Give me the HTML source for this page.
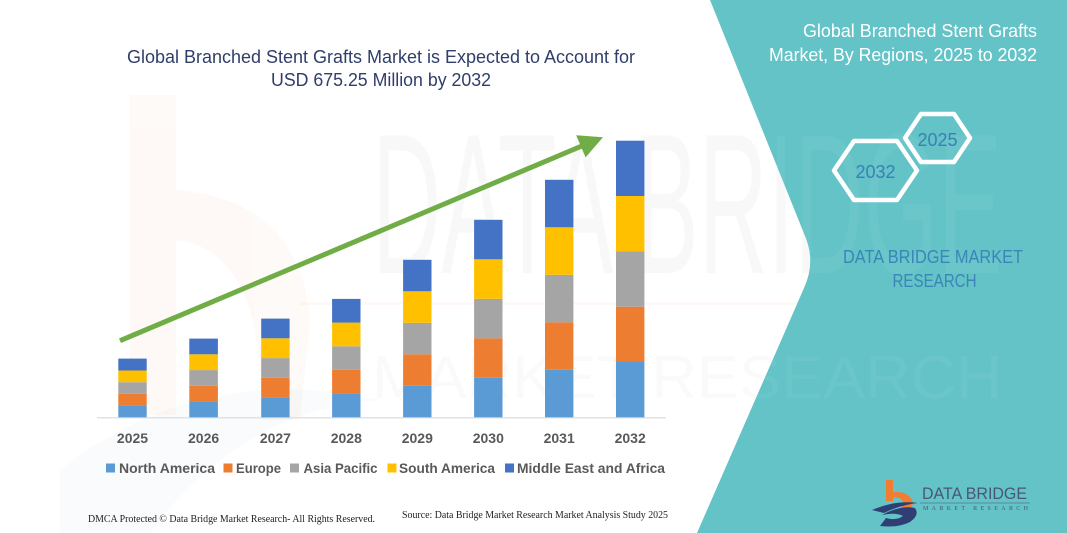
<!DOCTYPE html>
<html>
<head>
<meta charset="utf-8">
<style>
html,body{margin:0;padding:0;background:#fff;}
body{width:1067px;height:533px;overflow:hidden;}
svg{display:block;}
</style>
</head>
<body>
<svg width="1067" height="533" viewBox="0 0 1067 533" xmlns="http://www.w3.org/2000/svg">
  <defs>
    <clipPath id="tealclip">
      <path d="M710,0 L1067,0 L1067,533 L697,533 L804,288 Q816,262 805,236 Z"/>
    </clipPath>
  </defs>
  <rect x="0" y="0" width="1067" height="533" fill="#ffffff"/>

  <!-- faint orange "b" watermark -->
  <g opacity="0.04">
    <rect x="130" y="95" width="46" height="320" fill="#f08a3c"/>
    <path d="M176,190 Q300,200 310,320 L300,420 L262,420 Q265,250 176,240 Z" fill="#f08a3c"/>
  </g>
  <path d="M60,470 Q200,360 380,400 Q240,410 150,533 L60,533 Z" fill="#4a7fb0" opacity="0.03"/>

  <!-- faint DATA BRIDGE watermark (white area) -->
  <g font-family="'Liberation Sans', sans-serif" fill="#000">
    <text x="372" y="273" font-size="200" textLength="630" lengthAdjust="spacingAndGlyphs" opacity="0.022">DATA BRIDGE</text>
    <text x="372" y="398" font-size="60" textLength="630" lengthAdjust="spacingAndGlyphs" opacity="0.015">MARKET RESEARCH</text>
  </g>
  <rect x="300" y="302" width="700" height="3" fill="#f5a060" opacity="0.06"/>

  <!-- teal panel -->
  <path d="M710,0 L1067,0 L1067,533 L697,533 L804,288 Q816,262 805,236 Z" fill="#63c3c7"/>
  <g clip-path="url(#tealclip)" font-family="'Liberation Sans', sans-serif" fill="#ffffff" opacity="0.05">
    <text x="372" y="273" font-size="200" textLength="630" lengthAdjust="spacingAndGlyphs">DATA BRIDGE</text>
    <text x="372" y="398" font-size="60" textLength="630" lengthAdjust="spacingAndGlyphs">MARKET RESEARCH</text>
  </g>

  <!-- main title -->
  <g font-family="'Liberation Sans', sans-serif" font-size="18" fill="#2f3e6a">
    <text x="127" y="63" textLength="508" lengthAdjust="spacingAndGlyphs">Global Branched Stent Grafts Market is Expected to Account for</text>
    <text x="271" y="86" textLength="220" lengthAdjust="spacingAndGlyphs">USD 675.25 Million by 2032</text>
  </g>

  <!-- axis -->
  <line x1="97" y1="417.8" x2="666" y2="417.8" stroke="#d9d9d9" stroke-width="1.2"/>

  <!-- 2025 -->
  <g>
    <rect x="118.3" y="405.6" width="28.4" height="11.7" fill="#5b9bd5"/>
    <rect x="118.3" y="393.9" width="28.4" height="11.7" fill="#ed7d31"/>
    <rect x="118.3" y="382.2" width="28.4" height="11.7" fill="#a5a5a5"/>
    <rect x="118.3" y="370.5" width="28.4" height="11.7" fill="#ffc000"/>
    <rect x="118.3" y="358.6" width="28.4" height="11.9" fill="#4472c4"/>
  </g>
  <!-- 2026 -->
  <g>
    <rect x="189.3" y="401.6" width="28.6" height="15.7" fill="#5b9bd5"/>
    <rect x="189.3" y="385.8" width="28.6" height="15.8" fill="#ed7d31"/>
    <rect x="189.3" y="370.1" width="28.6" height="15.7" fill="#a5a5a5"/>
    <rect x="189.3" y="354.3" width="28.6" height="15.8" fill="#ffc000"/>
    <rect x="189.3" y="338.6" width="28.6" height="15.7" fill="#4472c4"/>
  </g>
  <!-- 2027 -->
  <g>
    <rect x="261.2" y="397.6" width="28.4" height="19.7" fill="#5b9bd5"/>
    <rect x="261.2" y="377.8" width="28.4" height="19.8" fill="#ed7d31"/>
    <rect x="261.2" y="358.1" width="28.4" height="19.7" fill="#a5a5a5"/>
    <rect x="261.2" y="338.3" width="28.4" height="19.8" fill="#ffc000"/>
    <rect x="261.2" y="318.6" width="28.4" height="19.7" fill="#4472c4"/>
  </g>
  <!-- 2028 -->
  <g>
    <rect x="332.1" y="393.6" width="28.4" height="23.7" fill="#5b9bd5"/>
    <rect x="332.1" y="369.9" width="28.4" height="23.7" fill="#ed7d31"/>
    <rect x="332.1" y="346.3" width="28.4" height="23.6" fill="#a5a5a5"/>
    <rect x="332.1" y="322.6" width="28.4" height="23.7" fill="#ffc000"/>
    <rect x="332.1" y="298.9" width="28.4" height="23.7" fill="#4472c4"/>
  </g>
  <!-- 2029 -->
  <g>
    <rect x="403.1" y="385.8" width="28.4" height="31.5" fill="#5b9bd5"/>
    <rect x="403.1" y="354.3" width="28.4" height="31.5" fill="#ed7d31"/>
    <rect x="403.1" y="322.8" width="28.4" height="31.5" fill="#a5a5a5"/>
    <rect x="403.1" y="291.3" width="28.4" height="31.5" fill="#ffc000"/>
    <rect x="403.1" y="259.8" width="28.4" height="31.5" fill="#4472c4"/>
  </g>
  <!-- 2030 -->
  <g>
    <rect x="474.1" y="377.8" width="28.4" height="39.5" fill="#5b9bd5"/>
    <rect x="474.1" y="338.3" width="28.4" height="39.5" fill="#ed7d31"/>
    <rect x="474.1" y="298.8" width="28.4" height="39.5" fill="#a5a5a5"/>
    <rect x="474.1" y="259.3" width="28.4" height="39.5" fill="#ffc000"/>
    <rect x="474.1" y="219.8" width="28.4" height="39.5" fill="#4472c4"/>
  </g>
  <!-- 2031 -->
  <g>
    <rect x="545" y="369.8" width="28.4" height="47.5" fill="#5b9bd5"/>
    <rect x="545" y="322.3" width="28.4" height="47.5" fill="#ed7d31"/>
    <rect x="545" y="274.8" width="28.4" height="47.5" fill="#a5a5a5"/>
    <rect x="545" y="227.3" width="28.4" height="47.5" fill="#ffc000"/>
    <rect x="545" y="179.8" width="28.4" height="47.5" fill="#4472c4"/>
  </g>
  <!-- 2032 -->
  <g>
    <rect x="616" y="362.0" width="28.4" height="55.3" fill="#5b9bd5"/>
    <rect x="616" y="306.7" width="28.4" height="55.3" fill="#ed7d31"/>
    <rect x="616" y="251.4" width="28.4" height="55.3" fill="#a5a5a5"/>
    <rect x="616" y="196.0" width="28.4" height="55.4" fill="#ffc000"/>
    <rect x="616" y="140.7" width="28.4" height="55.3" fill="#4472c4"/>
  </g>

  <!-- green arrow -->
  <line x1="120" y1="340.7" x2="583" y2="145.5" stroke="#70ad47" stroke-width="5"/>
  <polygon points="603,137.3 576.2,135.2 585.6,157.4" fill="#70ad47"/>

  <!-- year labels -->
  <g font-family="'Liberation Sans', sans-serif" font-size="14" font-weight="bold" fill="#595959" text-anchor="middle">
    <text x="132.5" y="443">2025</text>
    <text x="203.6" y="443">2026</text>
    <text x="275.4" y="443">2027</text>
    <text x="346.3" y="443">2028</text>
    <text x="417.3" y="443">2029</text>
    <text x="488.3" y="443">2030</text>
    <text x="559.2" y="443">2031</text>
    <text x="630.2" y="443">2032</text>
  </g>

  <!-- legend -->
  <g font-family="'Liberation Sans', sans-serif" font-size="14" font-weight="bold" fill="#595959">
    <rect x="106" y="463.5" width="9" height="9" fill="#5b9bd5"/>
    <text x="119" y="473" textLength="96" lengthAdjust="spacingAndGlyphs">North America</text>
    <rect x="223.5" y="463.5" width="9" height="9" fill="#ed7d31"/>
    <text x="236" y="473" textLength="45" lengthAdjust="spacingAndGlyphs">Europe</text>
    <rect x="290" y="463.5" width="9" height="9" fill="#a5a5a5"/>
    <text x="303.5" y="473" textLength="74" lengthAdjust="spacingAndGlyphs">Asia Pacific</text>
    <rect x="387.5" y="463.5" width="9" height="9" fill="#ffc000"/>
    <text x="399" y="473" textLength="96" lengthAdjust="spacingAndGlyphs">South America</text>
    <rect x="505" y="463.5" width="9" height="9" fill="#4472c4"/>
    <text x="517" y="473" textLength="148" lengthAdjust="spacingAndGlyphs">Middle East and Africa</text>
  </g>

  <!-- footer -->
  <g font-family="'Liberation Serif', serif" font-size="10" fill="#222">
    <text x="88" y="522" textLength="287" lengthAdjust="spacingAndGlyphs">DMCA Protected © Data Bridge Market Research-  All Rights Reserved.</text>
    <text x="402" y="518" textLength="266" lengthAdjust="spacingAndGlyphs">Source: Data Bridge Market Research  Market Analysis Study 2025</text>
  </g>

  <!-- right panel title -->
  <g font-family="'Liberation Sans', sans-serif" font-size="18" fill="#ffffff" text-anchor="end">
    <text x="1037" y="37" textLength="234" lengthAdjust="spacingAndGlyphs">Global Branched Stent Grafts</text>
    <text x="1037" y="61" textLength="268" lengthAdjust="spacingAndGlyphs">Market, By Regions, 2025 to 2032</text>
  </g>

  <!-- hexagons -->
  <polygon points="905,138 921,114 954,114 970,138 954,162 921,162" fill="none" stroke="#ffffff" stroke-width="4.5" stroke-linejoin="round"/>
  <polygon points="834,170.5 854,141 897,141 917,170.5 897,200 854,200" fill="none" stroke="#ffffff" stroke-width="4.5" stroke-linejoin="round"/>
  <g font-family="'Liberation Sans', sans-serif" font-size="18" fill="#3a7fb6" text-anchor="middle">
    <text x="937.5" y="146">2025</text>
    <text x="875.5" y="178">2032</text>
  </g>

  <!-- DATA BRIDGE MARKET RESEARCH -->
  <g font-family="'Liberation Sans', sans-serif" font-size="18" fill="#3a86b8" text-anchor="middle">
    <text x="933" y="263" textLength="180" lengthAdjust="spacingAndGlyphs">DATA BRIDGE MARKET</text>
    <text x="934.5" y="287" textLength="84" lengthAdjust="spacingAndGlyphs">RESEARCH</text>
  </g>

  <!-- logo -->
  <g>
    <rect x="886" y="480" width="7" height="21" fill="#ef7d32"/>
    <path d="M886,494 Q905,488 912,500 Q915,507 906,511 L900,509 Q906,504 901,499 Q895,495 886,500 Z" fill="#ef7d32"/>
    <path d="M872,510 Q895,500 918,503 Q900,505 884,513 Z" fill="#2f3f73"/>
    <path d="M882,515 Q900,505 915,508 Q920,515 910,522 Q898,528 880,526 L886,518 Q896,521 903,516 Q896,512 882,515 Z" fill="#2f3f73"/>
    <text x="922" y="499" font-family="'Liberation Sans', sans-serif" font-size="17" fill="#4b5677" textLength="105" lengthAdjust="spacingAndGlyphs">DATA BRIDGE</text>
    <line x1="920" y1="503" x2="1030" y2="503" stroke="#4b5677" stroke-width="0.6"/>
    <text x="923" y="510" font-family="'Liberation Serif', serif" font-size="6" fill="#4b5677" textLength="105" lengthAdjust="spacing">MARKET  RESEARCH</text>
  </g>
</svg>
</body>
</html>
